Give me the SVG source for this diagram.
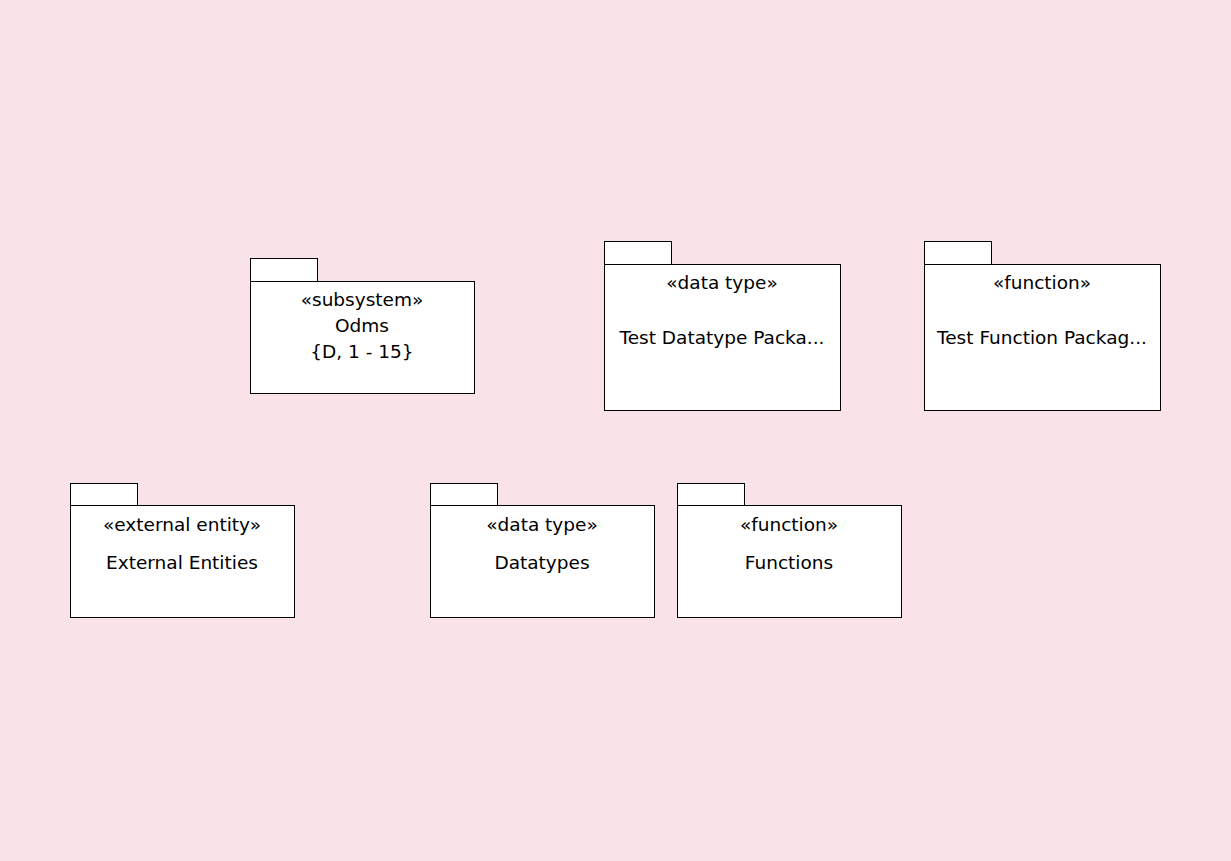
<svg xmlns="http://www.w3.org/2000/svg" width="1231" height="861" viewBox="0 0 1231 861">
<style>
.b{fill:#fff;stroke:#000;stroke-width:1}
.t{font-family:"DejaVu Sans",sans-serif;font-size:18.5px;fill:#000;text-anchor:middle}
</style>
<rect width="1231" height="861" fill="#F9E2E8"/>
<g id="odms">
<rect class="b" x="250.5" y="258.5" width="67" height="23"/>
<rect class="b" x="250.5" y="281.5" width="224" height="112"/>
<text class="t" x="362" y="306">«subsystem»</text>
<text class="t" x="362" y="332">Odms</text>
<text class="t" x="362" y="358">{D, 1 - 15}</text>
</g>
<g id="testDatatype">
<rect class="b" x="604.5" y="241.5" width="67" height="23"/>
<rect class="b" x="604.5" y="264.5" width="236" height="146"/>
<text class="t" x="722" y="289">«data type»</text>
<text class="t" x="722" y="344">Test Datatype Packa...</text>
</g>
<g id="testFunction">
<rect class="b" x="924.5" y="241.5" width="67" height="23"/>
<rect class="b" x="924.5" y="264.5" width="236" height="146"/>
<text class="t" x="1042" y="289">«function»</text>
<text class="t" x="1042" y="344">Test Function Packag...</text>
</g>
<g id="external">
<rect class="b" x="70.5" y="483.5" width="67" height="22"/>
<rect class="b" x="70.5" y="505.5" width="224" height="112"/>
<text class="t" x="182" y="531">«external entity»</text>
<text class="t" x="182" y="569">External Entities</text>
</g>
<g id="datatypes">
<rect class="b" x="430.5" y="483.5" width="67" height="22"/>
<rect class="b" x="430.5" y="505.5" width="224" height="112"/>
<text class="t" x="542" y="531">«data type»</text>
<text class="t" x="542" y="569">Datatypes</text>
</g>
<g id="functions">
<rect class="b" x="677.5" y="483.5" width="67" height="22"/>
<rect class="b" x="677.5" y="505.5" width="224" height="112"/>
<text class="t" x="789" y="531">«function»</text>
<text class="t" x="789" y="569">Functions</text>
</g>
<g id="connectors"></g>
</svg>
